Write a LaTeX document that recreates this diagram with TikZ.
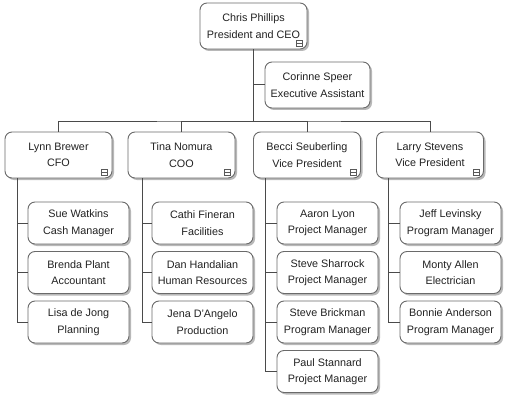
\documentclass[tikz,border=0pt]{standalone}
\usepackage{fontspec}
\setmainfont{Liberation Sans}
\usetikzlibrary{shadows}
\definecolor{boxborder}{HTML}{6A6A6A}
\definecolor{linec}{HTML}{4A4A4A}
\definecolor{txt}{HTML}{222222}
\tikzset{
  box/.style={draw=boxborder, fill=white, rounded corners=7pt, line width=0.9pt,
    align=center, inner sep=0pt, text=txt,
    font=\fontsize{10.8}{16.5}\selectfont,
    drop shadow={shadow xshift=2pt, shadow yshift=-2pt, fill=black!28, opacity=1}},
  bigbox/.style={box, minimum width=107pt, minimum height=46pt},
  smallbox/.style={box, minimum width=101pt, minimum height=42pt},
  conn/.style={draw=linec, line width=1pt},
  iconline/.style={draw=black!65, line width=0.6pt}
}
\newcommand\collapseicon[1]{%
  \draw[iconline, shift={(#1.south east)}] (-11,-9) rectangle (-5,-3) (-11,-6) -- (-5,-6);}
\newcommand\uptext[1]{\raisebox{2pt}{\begin{tabular}{@{}c@{}}#1\end{tabular}}}
\begin{document}
\begin{tikzpicture}[x=1pt, y=-1pt]
\useasboundingbox (0,0) rectangle (508,401);
% top
\node[bigbox] (chris) at (253.5,26) {Chris Phillips\\President and CEO};
\node[bigbox, minimum width=105pt] (corinne) at (317.5,85) {Corinne Speer\\Executive Assistant};
% level 2
\node[bigbox] (lynn) at (58.5,155) {Lynn Brewer\\CFO};
\node[bigbox] (tina) at (181.5,155) {Tina Nomura\\COO};
\node[bigbox] (becci) at (307,155) {Becci Seuberling\\Vice President};
\node[bigbox] (larry) at (430,155) {Larry Stevens\\Vice President};
% children
\node[smallbox] (sue) at (78.5,223) {Sue Watkins\\Cash Manager};
\node[smallbox] (brenda) at (78.5,272.5) {Brenda Plant\\Accountant};
\node[smallbox] (lisa) at (78.5,322) {Lisa de Jong\\Planning};
\node[smallbox] (cathi) at (202.5,223) {Cathi Fineran\\Facilities};
\node[smallbox] (dan) at (202.5,272.5) {Dan Handalian\\Human Resources};
\node[smallbox] (jena) at (202.5,322) {Jena D'Angelo\\Production};
\node[smallbox] (aaron) at (327.5,223) {Aaron Lyon\\Project Manager};
\node[smallbox] (sharrock) at (327.5,272.5) {Steve Sharrock\\Project Manager};
\node[smallbox] (brickman) at (327.5,322) {Steve Brickman\\Program Manager};
\node[smallbox] (paul) at (327.5,371.5) {Paul Stannard\\Project Manager};
\node[smallbox] (jeff) at (450.5,223) {Jeff Levinsky\\Program Manager};
\node[smallbox] (monty) at (450.5,272.5) {Monty Allen\\Electrician};
\node[smallbox] (bonnie) at (450.5,322) {Bonnie Anderson\\Program Manager};
% icons
\collapseicon{chris}
\collapseicon{lynn}
\collapseicon{tina}
\collapseicon{becci}
\collapseicon{larry}
% connectors top
\coordinate (bj) at (253.5,121);
\draw[conn] (chris.south) -- (bj);
\draw[conn] (corinne.west) -- (corinne.west -| chris.south);
\draw[conn] (lynn.north) |- (bj) -| (larry.north);
\draw[conn] (tina.north) |- (bj);
\draw[conn] (becci.north) |- (bj);
% trunks
\coordinate (lt) at (17,178);
\coordinate (tt) at (142,178);
\coordinate (bt) at (265,178);
\coordinate (rt) at (388,178);
\draw[conn] (lt) |- (sue.west);
\draw[conn] (lt) |- (brenda.west);
\draw[conn] (lt) |- (lisa.west);
\draw[conn] (tt) |- (cathi.west);
\draw[conn] (tt) |- (dan.west);
\draw[conn] (tt) |- (jena.west);
\draw[conn] (bt) |- (aaron.west);
\draw[conn] (bt) |- (sharrock.west);
\draw[conn] (bt) |- (brickman.west);
\draw[conn] (bt) |- (paul.west);
\draw[conn] (rt) |- (jeff.west);
\draw[conn] (rt) |- (monty.west);
\draw[conn] (rt) |- (bonnie.west);
\end{tikzpicture}
\end{document}
